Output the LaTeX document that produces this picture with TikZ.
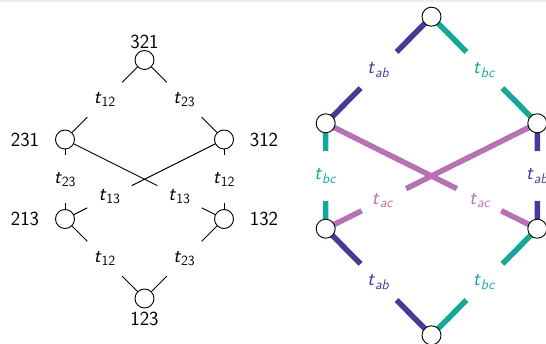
\documentclass[tikz,border=0pt]{standalone}
\usetikzlibrary{calc}
\definecolor{cab}{RGB}{70,60,150}
\definecolor{cbc}{RGB}{20,168,150}
\definecolor{cac}{RGB}{180,115,180}
\newcommand\tlab[1]{\textit{t}\textsubscript{#1}}
\begin{document}
\begin{tikzpicture}[x=1pt,y=-1pt,
  every node/.style={font=\fontsize{20}{24}\selectfont\sffamily},
  vert/.style={circle,draw,fill=white,line width=0.9pt,minimum size=19pt,inner sep=0pt},
  thinline/.style={line width=0.9pt},
  fatline/.style={line width=5.5pt},
  txt/.style={inner sep=0pt}]
\useasboundingbox (0,0) rectangle (546,344);
\fill[gray!15] (0,0) rectangle (546,2);
% ---------- left diagram ----------
\coordinate (p321) at (144.5,60);
\coordinate (p231) at (65,139.5);
\coordinate (p312) at (224,139.5);
\coordinate (p213) at (65,219);
\coordinate (p132) at (224,219);
\coordinate (p123) at (144.5,298.5);
% outer edges
\foreach \u/\v in {p321/p231,p321/p312,p213/p123,p132/p123}{
  \draw[thinline] (\u) -- ($(\u)!0.28!(\v)$);
  \draw[thinline] (\v) -- ($(\v)!0.28!(\u)$);
}
\foreach \u/\v in {p231/p213,p312/p132}{
  \draw[thinline] (\u) -- ($(\u)!0.2!(\v)$);
  \draw[thinline] (\v) -- ($(\v)!0.2!(\u)$);
}
\foreach \u/\v in {p231/p132,p312/p213}{
  \draw[thinline] (\u) -- ($(\u)!0.58!(\v)$);
  \draw[thinline] ($(\u)!0.86!(\v)$) -- (\v);
}
\node[txt] (l1) at ($(p321)!0.5!(p231)$) {\tlab{12}};
\node[txt] (l2) at ($(p321)!0.5!(p312)$) {\tlab{23}};
\node[txt] (l3) at ($(p231)!0.5!(p213)$) {\tlab{23}};
\node[txt] (l4) at ($(p312)!0.5!(p132)$) {\tlab{12}};
\node[txt] (l5) at ($(p312)!0.72!(p213)$) {\tlab{13}};
\node[txt] (l6) at ($(p231)!0.72!(p132)$) {\tlab{13}};
\node[txt] (l7) at ($(p213)!0.5!(p123)$) {\tlab{12}};
\node[txt] (l8) at ($(p132)!0.5!(p123)$) {\tlab{23}};
\foreach \p in {p321,p231,p312,p213,p132,p123}{
  \node[vert] (\p c) at (\p) {};
}
\node[txt] (n321) at (144.5,42) {321};
\node[txt] (n123) at (144.5,318.5) {123};
\node[txt] (n231) at (25,139.5) {231};
\node[txt] (n213) at (25,219) {213};
\node[txt] (n312) at (264,139.5) {312};
\node[txt] (n132) at (264,219) {132};
% ---------- right diagram ----------
\coordinate (q0) at (431.5,16.7);
\coordinate (qL) at (325.7,123.3);
\coordinate (qR) at (537.3,123.3);
\coordinate (qL2) at (325.7,228.7);
\coordinate (qR2) at (537.3,228.7);
\coordinate (qB) at (431.5,335.3);
\foreach \u/\v/\c in {q0/qL/cab,q0/qR/cbc,qL2/qB/cab,qR2/qB/cbc}{
  \draw[fatline,\c] (\u) -- ($(\u)!0.33!(\v)$);
  \draw[fatline,\c] (\v) -- ($(\v)!0.33!(\u)$);
}
\foreach \u/\v/\c in {qL/qL2/cbc,qR/qR2/cab}{
  \draw[fatline,\c] (\u) -- ($(\u)!0.265!(\v)$);
  \draw[fatline,\c] (\v) -- ($(\v)!0.265!(\u)$);
}
\foreach \u/\v in {qL/qR2,qR/qL2}{
  \draw[fatline,cac] (\u) -- ($(\u)!0.62!(\v)$);
  \draw[fatline,cac] ($(\u)!0.83!(\v)$) -- (\v);
}
\node[txt,text=cab] (r1) at ($(q0)!0.5!(qL)$) {\tlab{\textit{ab}}};
\node[txt,text=cbc] (r2) at ($(q0)!0.5!(qR)$) {\tlab{\textit{bc}}};
\node[txt,text=cbc] (r3) at ($(qL)!0.5!(qL2)$) {\tlab{\textit{bc}}};
\node[txt,text=cab] (r4) at ($(qR)!0.5!(qR2)$) {\tlab{\textit{ab}}};
\node[txt,text=cac] (r5) at ($(qR)!0.73!(qL2)$) {\tlab{\textit{ac}}};
\node[txt,text=cac] (r6) at ($(qL)!0.73!(qR2)$) {\tlab{\textit{ac}}};
\node[txt,text=cab] (r7) at ($(qL2)!0.5!(qB)$) {\tlab{\textit{ab}}};
\node[txt,text=cbc] (r8) at ($(qR2)!0.5!(qB)$) {\tlab{\textit{bc}}};
\foreach \p in {q0,qL,qR,qL2,qR2,qB}{
  \node[vert] (\p c) at (\p) {};
}
\end{tikzpicture}
\end{document}
